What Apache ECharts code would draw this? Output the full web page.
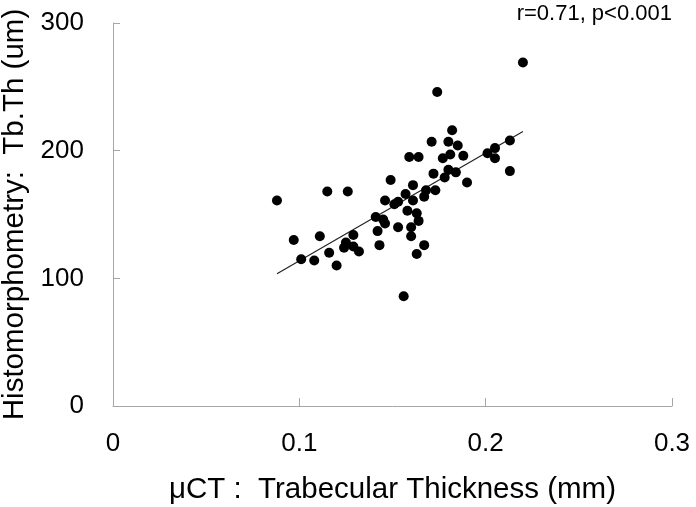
<!DOCTYPE html>
<html>
<head>
<meta charset="utf-8">
<script src="https://cdn.jsdelivr.net/npm/echarts@6/dist/echarts.min.js"></script>
<style>
html,body{margin:0;padding:0;background:#fff;}
#chart{width:696px;height:507px;}
</style>
</head>
<body>
<div id="chart"></div>
<script>
// μCT trabecular thickness (mm)
const microCT = [0.088,0.097,0.101,0.108,0.111,0.115,0.116,0.120,0.124,0.125,
  0.126,0.129,0.129,0.132,0.141,0.142,0.143,0.145,0.146,0.146,
  0.149,0.151,0.153,0.153,0.156,0.157,0.158,0.159,0.160,0.160,
  0.161,0.161,0.163,0.164,0.163,0.164,0.167,0.167,0.168,0.171,
  0.172,0.173,0.174,0.177,0.178,0.180,0.180,0.181,0.182,0.184,
  0.185,0.188,0.190,0.201,0.205,0.205,0.213,0.213,0.220];
// Histomorphometry Tb.Th (um)
const histo = [161,130,115,114,133,168,120,110,124,128,
  168,134,125,121,148,137,126,146,143,161,
  177,158,160,140,86,166,153,195,140,133,
  161,173,151,145,119,195,126,164,169,207,
  182,169,246,194,179,185,207,197,216,183,
  204,196,175,198,202,194,208,184,269];
// regression line endpoints
const trendX = [0.088, 0.220];
const trendY = [103.6, 215];
const xTicks = [0, 0.1, 0.2, 0.3];
const yTicks = [0, 100, 200, 300];
const annotation = 'r=0.71, p<0.001';

const chart = echarts.init(document.getElementById('chart'), null, {renderer:'canvas'});
const font = 'Liberation Sans, Arial, sans-serif';
const axisGray = '#a6a6a6';
chart.setOption({
  animation: false,
  backgroundColor: '#fff',
  grid: {left: 113, right: 24, top: 23, bottom: 101, containLabel: false, outerBoundsMode: 'none'},
  xAxis: {
    type: 'value', min: xTicks[0], max: xTicks[xTicks.length-1], interval: 0.1,
    name: 'μCT :  Trabecular Thickness (mm)', nameLocation: 'middle', nameGap: 69,
    nameTextStyle: {fontFamily: font, fontSize: 29.5, color: '#000'},
    axisLine: {show: true, lineStyle: {color: axisGray, width: 1}},
    axisTick: {show: true, inside: true, length: 8, lineStyle: {color: axisGray}},
    axisLabel: {fontFamily: font, fontSize: 26, color: '#000', margin: 25,
      formatter: v => String(Math.round(v*10)/10)},
    splitLine: {show: false}
  },
  yAxis: {
    type: 'value', min: yTicks[0], max: yTicks[yTicks.length-1], interval: 100,
    name: 'Histomorphometry:  Tb.Th (um)', nameLocation: 'middle', nameGap: 81,
    nameTextStyle: {fontFamily: font, fontSize: 29.5, color: '#000'},
    axisLine: {show: true, lineStyle: {color: axisGray, width: 1}},
    axisTick: {show: true, inside: true, length: 7, lineStyle: {color: axisGray}},
    axisLabel: {fontFamily: font, fontSize: 26, color: '#000', margin: 29},
    splitLine: {show: false}
  },
  graphic: [{
    type: 'text', right: 24, top: 3,
    style: {text: annotation, font: '22px ' + font, fill: '#000'}
  }],
  series: [{
    type: 'scatter',
    data: microCT.map((x, i) => [x, histo[i]]),
    symbol: 'circle', symbolSize: 10,
    itemStyle: {color: '#000', opacity: 1},
    z: 3
  }, {
    type: 'line',
    data: trendX.map((x, i) => [x, trendY[i]]),
    symbol: 'none',
    lineStyle: {color: '#222', width: 1.2},
    z: 2
  }]
});
</script>
</body>
</html>
